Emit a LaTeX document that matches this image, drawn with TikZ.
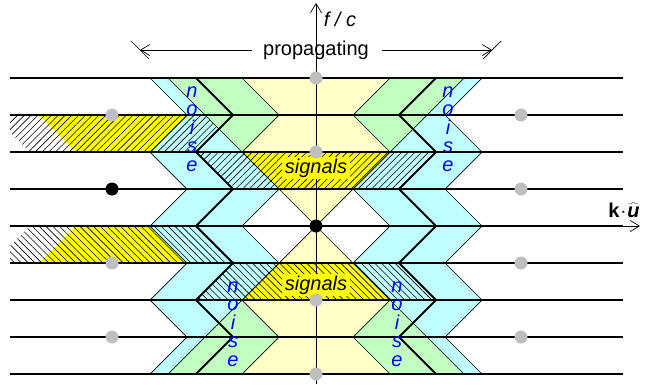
\documentclass[tikz,border=0pt]{standalone}
\usepackage{fontspec}
\setmainfont{Liberation Sans}
\usetikzlibrary{patterns.meta,arrows.meta}
\definecolor{cyanL}{RGB}{191,255,255}
\definecolor{greenL}{RGB}{193,255,193}
\definecolor{yellowL}{RGB}{255,255,199}
\definecolor{yellowS}{RGB}{255,255,0}
\definecolor{dotgray}{RGB}{191,191,191}
\definecolor{noiseblue}{RGB}{0,0,255}
\begin{document}
\begin{tikzpicture}[x=1pt,y=-1pt,
  noop/.style={},
  mirx/.style={shift={(632,0)},xscale=-1},
  miry/.style={shift={(0,452)},yscale=-1},
  thinline/.style={line width=0.7pt},
  zigline/.style={line width=1.8pt},
  hline/.style={line width=1.4pt},
  axisline/.style={line width=0.7pt,-{Straight Barb[length=9pt,width=11pt]}},
  hatchNE/.style={pattern={Lines[angle=45,distance=4.8pt,line width=0.6pt]}},
  hatchNW/.style={pattern={Lines[angle=-45,distance=4.8pt,line width=0.6pt]}},
  gdot/.style={circle,fill=dotgray,inner sep=0pt,minimum size=13pt},
  bdot/.style={circle,fill=black,inner sep=0pt,minimum size=13pt},
  lbl/.style={font=\fontsize{20}{22}\selectfont,inner sep=0pt,anchor=base},
  siglbl/.style={font=\fontsize{20}{22}\selectfont\itshape,fill=yellowS,inner xsep=3pt,inner ysep=2pt,anchor=base},
  noiselbl/.style={font=\fontsize{20}{22}\selectfont\itshape,text=noiseblue,inner sep=0pt,anchor=base}
]
\useasboundingbox (0,0) rectangle (645,384);

% cyan zigzag bands
\foreach \m in {noop,mirx}{
  \begin{scope}[\m]
    \fill[cyanL] (150,78)--(187,115)--(150,152)--(187,189)--(150,226)--(187,263)--(150,300)--(187,337)--(150,374)
      --(242,374)--(279,337)--(242,300)--(279,263)--(242,226)--(279,189)--(242,152)--(279,115)--(242,78)--cycle;
  \end{scope}}

% pale yellow light cone inside the zigzags
\foreach \m in {noop,miry}{
  \begin{scope}[\m]
    \fill[yellowL] (242,78)--(279,115)--(242,152)--(279,189)--(316,226)--(353,189)--(390,152)--(353,115)--(390,78)--cycle;
  \end{scope}}

% signals and their alias
\fill[yellowS] (242,152)--(390,152)--(353,189)--(279,189)--cycle;
\fill[yellowS] (279,263)--(353,263)--(390,300)--(242,300)--cycle;
\fill[yellowS] (39,115)--(187,115)--(150,152)--(76,152)--cycle;
\fill[yellowS] (76,226)--(150,226)--(187,263)--(39,263)--cycle;

% hatching
\begin{scope}
  \clip (10,0) rectangle (645,384);
  \fill[hatchNE] (196,152)--(436,152)--(399,189)--(233,189)--cycle;
  \fill[hatchNE] (-7,115)--(233,115)--(196,152)--(30,152)--cycle;
  \fill[hatchNW] (233,263)--(399,263)--(436,300)--(196,300)--cycle;
  \fill[hatchNW] (30,226)--(196,226)--(233,263)--(-7,263)--cycle;
\end{scope}

% green
\foreach \m in {noop,mirx}{
  \foreach \n in {noop,miry}{
    \begin{scope}[\m]\begin{scope}[\n]
      \fill[greenL] (168,78)--(242,78)--(279,115)--(242,152)--cycle;
    \end{scope}\end{scope}}}

% zigzag outlines
\foreach \m in {noop,mirx}{
  \begin{scope}[\m]
    \draw[thinline] (150,78)--(187,115)--(150,152)--(187,189)--(150,226)--(187,263)--(150,300)--(187,337)--(150,374);
    \draw[thinline] (242,78)--(279,115)--(242,152)--(279,189)--(242,226)--(279,263)--(242,300)--(279,337)--(242,374);
    \draw[zigline] (196,78)--(233,115)--(196,152)--(233,189)--(196,226)--(233,263)--(196,300)--(233,337)--(196,374);
  \end{scope}}

% light lines through the origin
\draw[thinline] (168,78)--(464,374);
\draw[thinline] (464,78)--(168,374);

% horizontal lines
\foreach \yy in {78,115,152,189,226,263,300,337,374}{
  \draw[hline] (10,\yy)--(623,\yy);}

% axes
\coordinate (vb) at (316,384);
\coordinate (vt) at (316,3);
\coordinate (hl) at (10,226);
\coordinate (hr) at (640,226);
\draw[axisline] (vb)--(vt);
\draw[axisline] (hl)--(hr);

% signals labels (yellow box hides the hatching behind the word)
\node[siglbl] (sigU) at (316,173) {signals};
\node[siglbl] (sigD) at (316,290) {signals};

% propagating arrows with light-line ticks
\node[lbl] (prop) at (316,55) {propagating};
\coordinate (pls) at (252,50);
\coordinate (ple) at (140,50);
\coordinate (prs) at (382,50);
\coordinate (pre) at (492,50);
\draw[axisline] (pls)--(ple);
\draw[axisline] (prs)--(pre);
\coordinate (tl1) at (131,41); \coordinate (tl2) at (149,59);
\coordinate (tr1) at (501,41); \coordinate (tr2) at (483,59);
\draw[thinline] (tl1)--(tl2);
\draw[thinline] (tr1)--(tr2);

% dots
\foreach \xx/\yy [count=\i] in {316/78,316/152,316/300,316/374,112/115,112/263,112/337,521/115,521/189,521/263,521/337}{
  \node[gdot] (g\i) at (\xx,\yy) {};}
\node[bdot] (b1) at (112,189) {};
\node[bdot] (b0) at (316,226) {};

% labels
\node[lbl] (fc) at (340,26) {\itshape f / c};
\node[lbl] (ku) at (624,217) {\bfseries k\kern1pt$\cdot$\kern1pt$\widehat{\hbox{\itshape u}}$};

\foreach \c [count=\k from 0] in {n,o,i,s,e}{
  \node[noiselbl] (nUL\k) at (192,97+18.6*\k) {\c};
  \node[noiselbl] (nUR\k) at (448,97+18.6*\k) {\c};
  \node[noiselbl] (nDL\k) at (233,292+18.5*\k) {\c};
  \node[noiselbl] (nDR\k) at (397,292+18.5*\k) {\c};
}
\end{tikzpicture}
\end{document}
